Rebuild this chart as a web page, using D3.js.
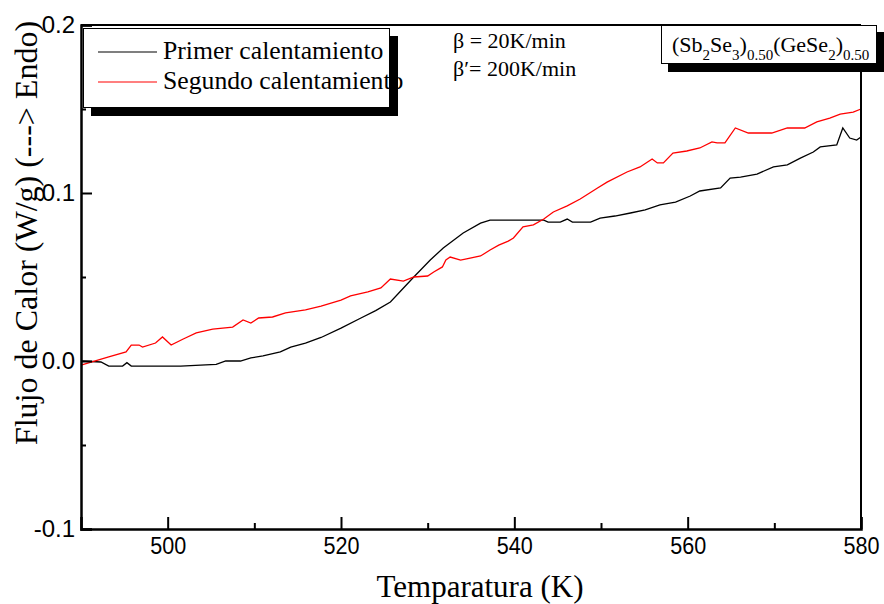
<!DOCTYPE html>
<html><head><meta charset="utf-8">
<script src="https://cdn.jsdelivr.net/npm/d3@7"></script>
<style>body{margin:0;background:#fff}svg{display:block}</style>
</head><body>
<svg id="c" width="884" height="604"></svg>
<script>
// ---- data ----
const xTicks = [500, 520, 540, 560, 580];
const xMinor = [510, 530, 550, 570];
const yTicks = [-0.1, 0.0, 0.1, 0.2];
const yMinor = [-0.05, 0.05, 0.15];
const yTickLabels = ["-0.1", "0.0", "0.1", "0.2"];
const seriesNames = ["Primer calentamiento", "Segundo calentamiento"];
const seriesColors = ["#000000", "#ff0000"];
const primerT = [490,492.3,493.2,494.8,495.3,495.8,501.5,503.8,505.6,506.7,508.4,509.6,511.0,513.0,514.2,515.9,517.7,520.0,522.3,524.0,525.7,528.4,530.3,531.8,534.1,536.1,537.2,543.4,543.9,545.3,546.1,546.7,548.8,549.9,551.6,553.4,555.1,556.8,558.6,560.3,561.4,563.8,564.9,566.1,568.0,569.9,571.5,573.0,574.5,575.3,577.2,577.9,578.7,579.5,580.0];
const primerV = [0.000,-0.0006,-0.003,-0.003,-0.001,-0.003,-0.003,-0.0024,-0.002,0.000,0.000,0.0018,0.003,0.0054,0.0083,0.0107,0.014,0.0196,0.0256,0.030,0.0351,0.050,0.0601,0.0673,0.0762,0.0821,0.0839,0.0839,0.0827,0.0827,0.0845,0.0827,0.0827,0.0851,0.0863,0.0881,0.0899,0.0929,0.0946,0.0982,0.1012,0.103,0.1089,0.1095,0.1113,0.1155,0.1167,0.1208,0.1244,0.1274,0.1286,0.1387,0.1327,0.1315,0.1333];
const segundoT = [490,493.2,495.2,495.8,496.7,497.1,498.6,499.4,500.4,501.8,503.3,505.2,507.5,508.7,509.6,510.5,512.1,513.6,515.9,517.7,520.0,521.1,523.1,524.6,525.7,527.2,528.4,530.0,530.7,531.7,532.1,532.6,533.8,534.9,536.1,537.2,538.2,539.3,539.9,541.0,542.2,543.4,544.5,546.1,547.6,549.6,550.7,553.0,554.5,555.9,556.5,557.2,558.3,559.9,561.4,562.8,563.4,564.3,565.5,567.0,569.7,571.5,573.5,574.9,576.4,577.6,579.1,580.0];
const segundoV = [-0.0024,0.0024,0.0054,0.0095,0.0095,0.0083,0.0107,0.0143,0.0095,0.0131,0.0167,0.019,0.0202,0.0244,0.0226,0.0256,0.0262,0.0286,0.0304,0.0327,0.0363,0.0387,0.0411,0.0435,0.0488,0.0476,0.050,0.0506,0.053,0.056,0.0601,0.0619,0.0601,0.0613,0.0625,0.0661,0.069,0.0714,0.0732,0.0798,0.081,0.0845,0.0887,0.0923,0.0964,0.103,0.1065,0.1125,0.1155,0.1202,0.1179,0.1179,0.1238,0.125,0.1268,0.1304,0.1298,0.1298,0.1387,0.1357,0.1357,0.1387,0.1387,0.1423,0.1446,0.147,0.1482,0.150];

// ---- layout ----
const svg = d3.select("#c");
const x = d3.scaleLinear().domain([490, 580]).range([81, 861]);
const y = d3.scaleLinear().domain([-0.1, 0.2]).range([529, 25]);
const serif = "'Liberation Serif','Times New Roman',serif";
const sans = "'Liberation Sans',Arial,sans-serif";

// lines
const line = d3.line().x(d => x(d[0])).y(d => y(d[1]));
const series = [d3.zip(primerT, primerV), d3.zip(segundoT, segundoV)];
series.forEach((s, i) => {
  svg.append("path").datum(s).attr("d", line).attr("fill", "none")
    .attr("stroke", seriesColors[i]).attr("stroke-width", 1.3);
});

// frame
svg.append("line").attr("x1", x(490)).attr("x2", x(580)).attr("y1", y(0.2)).attr("y2", y(0.2)).attr("stroke", "#000").attr("stroke-width", 2);
svg.append("line").attr("x1", x(580)).attr("x2", x(580)).attr("y1", y(0.2)).attr("y2", y(-0.1)).attr("stroke", "#000").attr("stroke-width", 2);

// axes (inward ticks)
const xAxis = d3.axisBottom(x).tickValues(xTicks).tickSize(-12).tickPadding(9).tickFormat(d3.format("d"));
const gx = svg.append("g").attr("transform", `translate(0,${y(-0.1)})`).call(xAxis);
gx.select(".domain").attr("stroke-width", 2.5);
gx.selectAll(".tick line").attr("stroke-width", 2);
gx.selectAll(".tick text").attr("font-family", sans).attr("font-size", 23).attr("fill", "#000")
  .attr("textLength", 36).attr("lengthAdjust", "spacingAndGlyphs");
const gxm = svg.append("g").attr("transform", `translate(0,${y(-0.1)})`)
  .call(d3.axisBottom(x).tickValues(xMinor).tickSize(-6).tickFormat(""));
gxm.select(".domain").remove();
gxm.selectAll(".tick line").attr("stroke-width", 2);

const yAxis = d3.axisLeft(y).tickValues(yTicks).tickSize(-11).tickPadding(6)
  .tickFormat((d, i) => yTickLabels[i]);
const gy = svg.append("g").attr("transform", `translate(${x(490)},0)`).call(yAxis);
gy.select(".domain").attr("stroke-width", 2.5);
gy.selectAll(".tick line").attr("stroke-width", 2);
gy.selectAll(".tick text").attr("font-family", sans).attr("font-size", 24).attr("fill", "#000");
const gym = svg.append("g").attr("transform", `translate(${x(490)},0)`)
  .call(d3.axisLeft(y).tickValues(yMinor).tickSize(-5).tickFormat(""));
gym.select(".domain").remove();
gym.selectAll(".tick line").attr("stroke-width", 2);

// axis titles
svg.append("text").attr("x", 480).attr("y", 597).attr("text-anchor", "middle")
  .attr("font-family", serif).attr("font-size", 31).text("Temparatura (K)");
svg.append("text").attr("transform", "translate(37,233) rotate(-90)").attr("text-anchor", "middle")
  .attr("font-family", serif).attr("font-size", 32).text("Flujo de Calor (W/g) (---> Endo)");

// legend
svg.append("rect").attr("x", 91).attr("y", 36).attr("width", 307).attr("height", 80).attr("fill", "#000");
svg.append("rect").attr("x", 83.5).attr("y", 28.5).attr("width", 306).attr("height", 79).attr("fill", "#fff").attr("stroke", "#000").attr("stroke-width", 1);
seriesNames.forEach((n, i) => {
  const yy = 52 + i * 30;
  svg.append("line").attr("x1", 98).attr("x2", 157).attr("y1", yy).attr("y2", yy)
    .attr("stroke", seriesColors[i]).attr("stroke-width", 1.2);
  svg.append("text").attr("x", 163).attr("y", yy + 7).attr("font-family", serif).attr("font-size", 25.7).text(n);
});

// beta annotation
svg.append("text").attr("x", 453).attr("y", 48).attr("font-family", serif).attr("font-size", 22).text("β = 20K/min");
svg.append("text").attr("x", 453).attr("y", 76).attr("font-family", serif).attr("font-size", 22).text("β′= 200K/min");

// composition box
svg.append("rect").attr("x", 668).attr("y", 32).attr("width", 216).attr("height", 40).attr("fill", "#000");
svg.append("rect").attr("x", 661.5).attr("y", 25.5).attr("width", 215).attr("height", 38).attr("fill", "#fff").attr("stroke", "#000").attr("stroke-width", 1);
const comp = svg.append("text").attr("x", 672).attr("y", 52).attr("font-family", serif).attr("font-size", 22);
const parts = [["(Sb", 0], ["2", 1], ["Se", 0], ["3", 1], [")", 0], ["0.50", 1], ["(GeSe", 0], ["2", 1], [")", 0], ["0.50", 1]];
let prevSub = false;
parts.forEach(([t, sub]) => {
  const ts = comp.append("tspan").text(t);
  if (sub) { ts.attr("font-size", 15); if (!prevSub) ts.attr("dy", 8); }
  else if (prevSub) ts.attr("dy", -8);
  prevSub = !!sub;
});
</script>
</body></html>
